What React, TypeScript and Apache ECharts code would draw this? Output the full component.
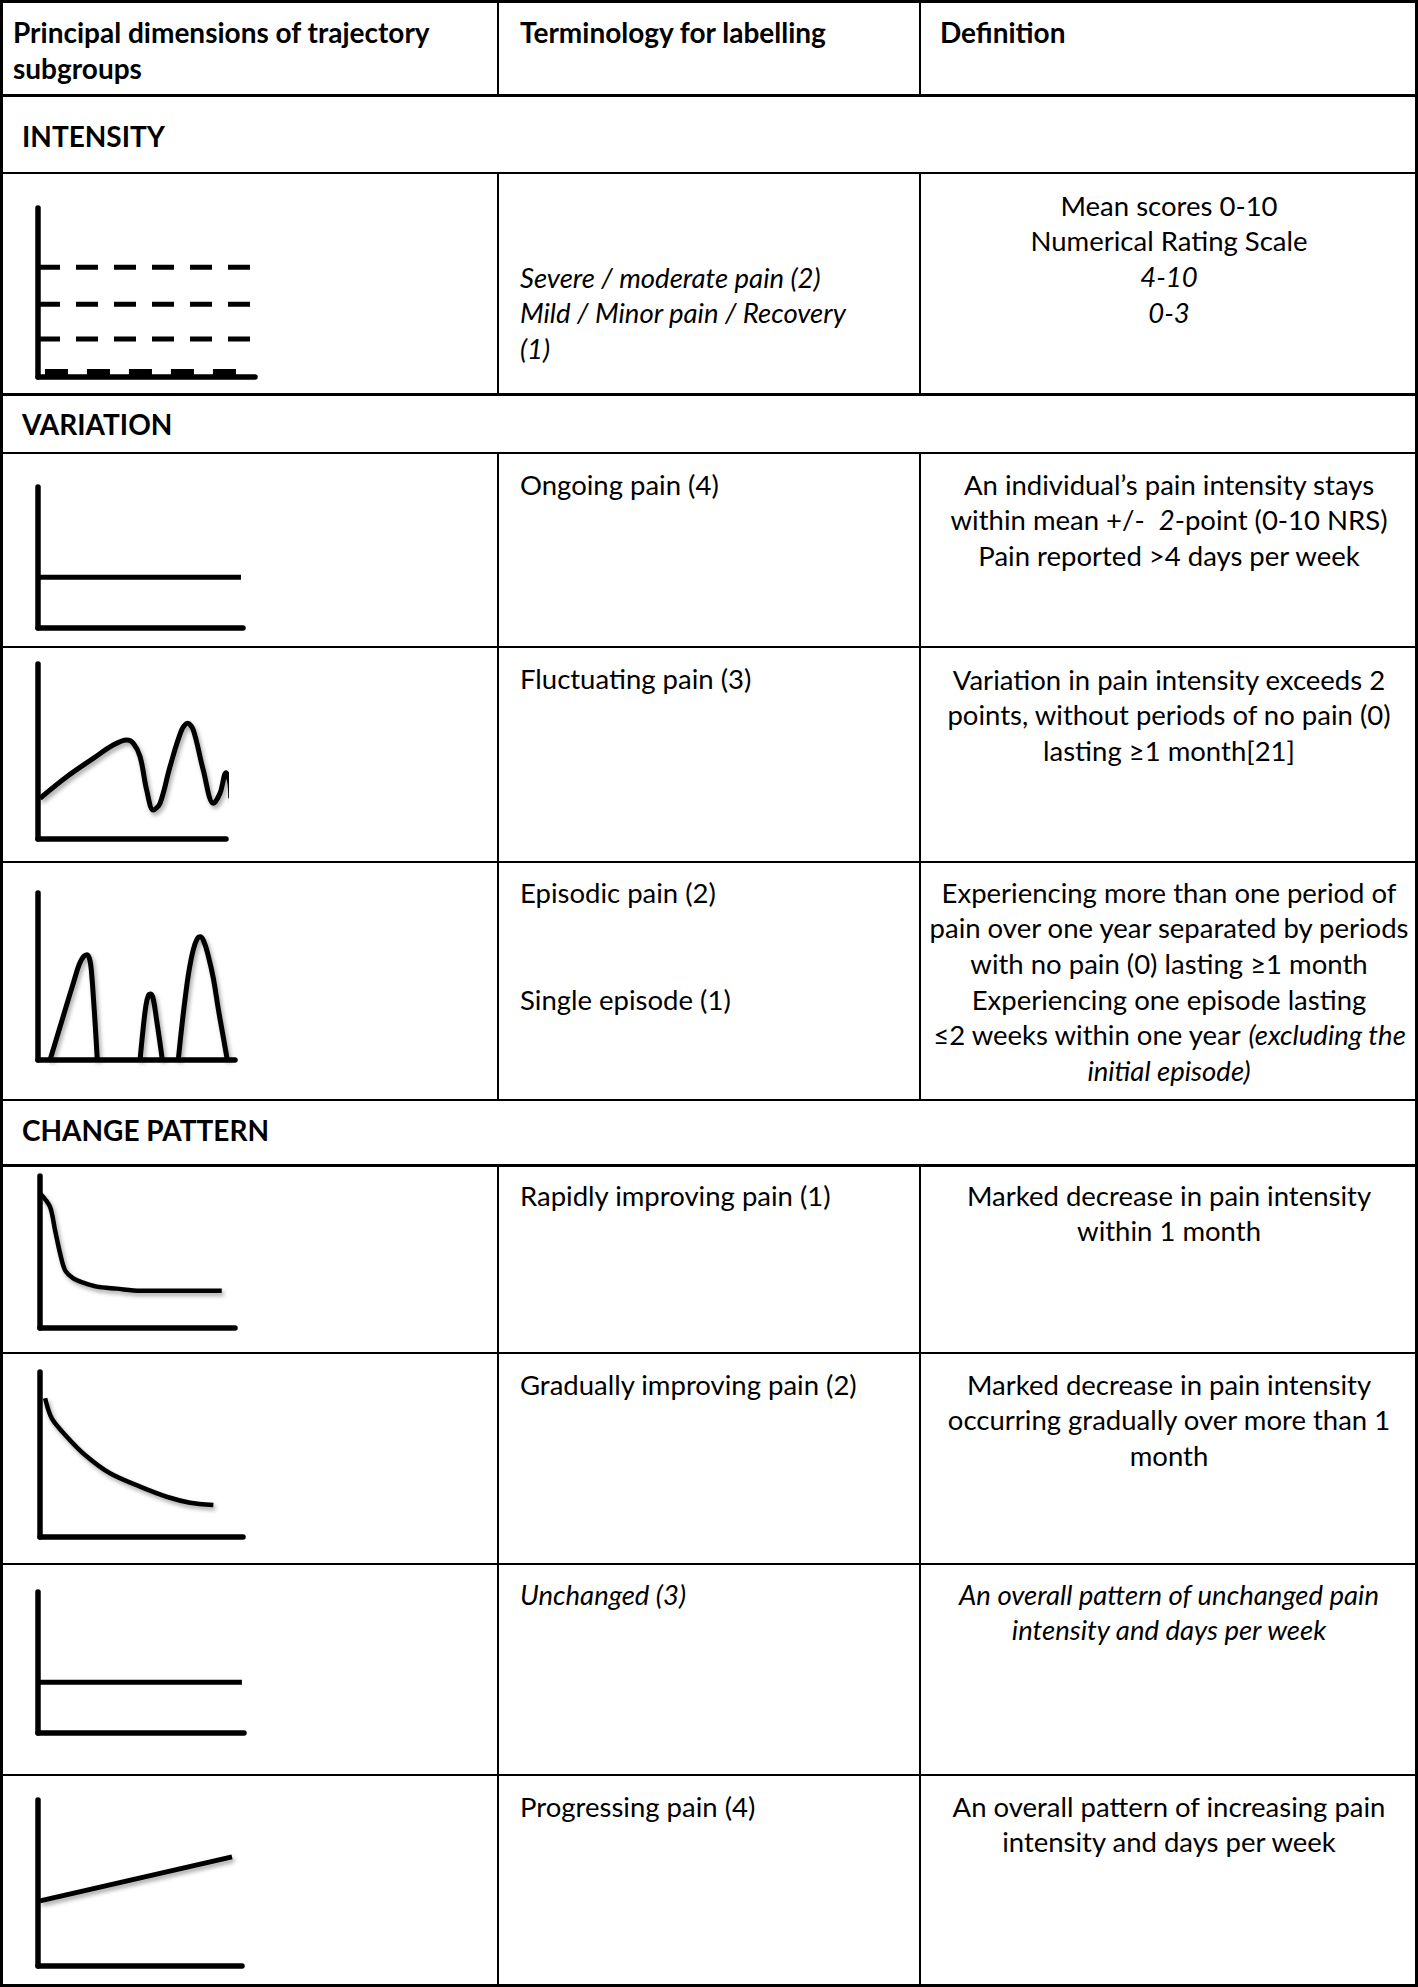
import React, { useEffect, useRef } from 'react';
import * as echarts from 'echarts';

const W = 1418;
const H = 1987;

// ---------- data ----------
const headerCol1 = ['Principal dimensions of trajectory', 'subgroups'];
const headerCol2 = ['Terminology for labelling'];
const headerCol3 = ['Definition'];
const sectionTitles = ['INTENSITY', 'VARIATION', 'CHANGE PATTERN'];

const terminologyLines = [
  ['{i|Severe / moderate pain (2)}', '{i|Mild / Minor pain / Recovery}', '{i|(1)}'],
  ['{r|Ongoing pain (4)}'],
  ['{r|Fluctuating pain (3)}'],
  ['{r|Episodic pain (2)}', '', '', '{r|Single episode (1)}'],
  ['{r|Rapidly improving pain (1)}'],
  ['{r|Gradually improving pain (2)}'],
  ['{i|Unchanged (3)}'],
  ['{r|Progressing pain (4)}'],
];

const definitionLines = [
  ['{r|Mean scores 0-10}', '{r|Numerical Rating Scale}', '{i|4-10}', '{i|0-3}'],
  ['{r|An individual’s pain intensity stays}', '{r|within mean +/-  }{i|2}{r|-point (0-10 NRS)}', '{r|Pain reported >4 days per week}'],
  ['{r|Variation in pain intensity exceeds 2}', '{r|points, without periods of no pain (0)}', '{r|lasting ≥1 month[21]}'],
  ['{r|Experiencing more than one period of}', '{r|pain over one year separated by periods}', '{r|with no pain (0) lasting ≥1 month}', '{r|Experiencing one episode lasting}', '{r|≤2 weeks within one year }{i|(excluding the}', '{i|initial episode)}'],
  ['{r|Marked decrease in pain intensity}', '{r|within 1 month}'],
  ['{r|Marked decrease in pain intensity}', '{r|occurring gradually over more than 1}', '{r|month}'],
  ['{i|An overall pattern of unchanged pain}', '{i|intensity and days per week}'],
  ['{r|An overall pattern of increasing pain}', '{r|intensity and days per week}'],
];

// sketch series (x: 0-100 along time axis, y: 0-10 pain scale)
const intensityLevels = [6.5, 4.3, 2.25];
const intensityLineEnd = 97.7;
const intensityFloor = [[3.2, 0.3], [92.2, 0.3]];
const ongoingLevel = [[0, 3.6], [99, 3.6]];
const fluctuatingCurve = [
  [1.1, 2.33], [15.3, 3.56], [29.4, 4.61], [40.0, 5.37], [47.2, 5.66], [50.7, 5.47],
  [54.3, 4.7], [57.8, 2.8], [61.3, 1.66], [64.9, 2.04], [70.2, 4.13], [76.4, 6.23],
  [79.6, 6.61], [82.6, 6.23], [87.9, 3.94], [93.3, 2.04], [96.8, 2.61], [100, 3.79],
  [102.1, 3.18], [102.5, 2.33],
];
const episodicPeak1 = [[6.1, 0], [10.2, 1.6], [14.3, 3.2], [18.3, 4.75], [21.0, 5.75], [23.2, 6.2], [24.9, 6.3], [26.3, 6.0], [27.2, 5.2], [28.2, 3.6], [29.2, 1.8], [30.1, 0]];
const episodicPeak2 = [[51.8, 0], [53.3, 1.8], [54.7, 3.2], [56.0, 3.85], [57.3, 3.95], [58.6, 3.6], [60.2, 2.4], [61.7, 1.2], [63.1, 0]];
const episodicPeak3 = [[71.2, 0], [72.9, 1.9], [74.6, 3.6], [76.6, 5.3], [78.8, 6.6], [80.8, 7.25], [82.4, 7.38], [84.2, 7.1], [86.3, 6.3], [89.0, 4.9], [91.6, 3.0], [94.0, 1.4], [96.1, 0]];
const rapidCurve = [
  [0, 8.86], [5.1, 7.98], [7.7, 6.45], [10.3, 4.91], [12.8, 3.82], [17.1, 3.27],
  [22.2, 2.98], [29.1, 2.72], [39.3, 2.59], [51.3, 2.45], [65, 2.45], [93.2, 2.45],
];
const gradualCurve = [
  [2.5, 8.41], [5.8, 7.19], [13.2, 6.08], [22.2, 4.97], [34.5, 3.86], [49.3, 3.05],
  [62.4, 2.44], [73.9, 2.08], [85.4, 1.94],
];
const unchangedLevel = [[0, 3.6], [99, 3.6]];
const progressingLine = [[1, 3.92], [95.1, 6.57]];

// ---------- layout ----------
const FONT = 'Lato, "Open Sans", sans-serif';
const FS = 27.5;
const FSB = 28;
const LH = 35.7;
const COL2_X = 520;
const COL3_C = 1169;
const termFirstY = [277, 484, 678, 892, 1195, 1384, 1594, 1806];
const defFirstY = [205, 484, 679, 892, 1195, 1384, 1594, 1806];
const sectionY = [136, 424, 1130];

const sketchGrids = [
  { left: 38, top: 208, width: 217, height: 169 },
  { left: 38, top: 487, width: 205, height: 141 },
  { left: 38, top: 664, width: 188, height: 175 },
  { left: 38, top: 893, width: 197, height: 167 },
  { left: 40, top: 1176, width: 195, height: 152 },
  { left: 40, top: 1372, width: 203, height: 165 },
  { left: 38, top: 1592, width: 206, height: 141 },
  { left: 38, top: 1800, width: 204, height: 166 },
];

const shadow = {
  shadowColor: 'rgba(0,0,0,0.35)',
  shadowBlur: 4,
  shadowOffsetX: 2,
  shadowOffsetY: 3,
};

const rich = {
  r: { fontFamily: FONT, fontSize: FS, fill: '#000', color: '#000' },
  i: { fontFamily: FONT, fontSize: FS, fontStyle: 'italic', fill: '#000', color: '#000' },
  b: { fontFamily: FONT, fontSize: FSB, fontWeight: 'bold', fill: '#000', color: '#000' },
};

function textEl(x: number, y: number, text: string, align: string) {
  return {
    type: 'text',
    x,
    y,
    silent: true,
    style: {
      text,
      rich,
      align,
      verticalAlign: 'middle',
      fontFamily: FONT,
      fontSize: FS,
      fill: '#000',
    },
  };
}

function rectEl(x: number, y: number, w: number, h: number) {
  return { type: 'rect', silent: true, shape: { x, y, width: w, height: h }, style: { fill: '#000' } };
}

function buildGraphic() {
  const els: any[] = [];
  els.push(rectEl(0, 0, W, 3));
  els.push(rectEl(0, H - 3, W, 3));
  els.push(rectEl(0, 0, 3, H));
  els.push(rectEl(W - 3, 0, 3, H));
  const hLines: [number, number][] = [
    [94, 3], [172, 2], [393, 3], [452, 2], [646, 2], [861, 2], [1099, 2],
    [1164, 3], [1352, 2], [1563, 2], [1774, 2],
  ];
  hLines.forEach(([y, t]) => els.push(rectEl(0, y, W, t)));
  const colX = [497, 919];
  const colSpans: [number, number][] = [[0, 95], [173, 394], [453, 1100], [1165, H]];
  colX.forEach((x) => colSpans.forEach(([a, b]) => els.push(rectEl(x, a, 2, b - a))));

  headerCol1.forEach((t, k) => els.push(textEl(13, 32 + k * LH, `{b|${t}}`, 'left')));
  headerCol2.forEach((t, k) => els.push(textEl(COL2_X, 32 + k * LH, `{b|${t}}`, 'left')));
  headerCol3.forEach((t, k) => els.push(textEl(940, 32 + k * LH, `{b|${t}}`, 'left')));
  sectionTitles.forEach((t, k) => els.push(textEl(22, sectionY[k], `{b|${t}}`, 'left')));
  terminologyLines.forEach((lines, r) =>
    lines.forEach((t, k) => {
      if (t) els.push(textEl(COL2_X, termFirstY[r] + k * LH, t, 'left'));
    })
  );
  definitionLines.forEach((lines, r) =>
    lines.forEach((t, k) => {
      if (t) els.push(textEl(COL3_C, defFirstY[r] + k * LH, t, 'center'));
    })
  );
  return els;
}

function lineSeries(idx: number, data: number[][], extra: any = {}) {
  const useShadow = extra.shadow !== false;
  return {
    type: 'line',
    xAxisIndex: idx,
    yAxisIndex: idx,
    data,
    symbol: 'none',
    showSymbol: false,
    silent: true,
    clip: false,
    lineStyle: {
      color: '#000', width: 5, cap: 'butt', join: 'round',
      ...(useShadow ? shadow : {}),
      ...(extra.lineStyle || {}),
    },
    smooth: extra.smooth ?? false,
  };
}

function buildOption() {
  const axisLine = {
    show: true,
    onZero: false,
    lineStyle: { color: '#000', width: 5.5 },
  };
  const grid = sketchGrids.map((g) => ({ ...g, containLabel: false }));
  const xAxis = sketchGrids.map((_, i) => ({
    type: 'value', gridIndex: i, min: 0, max: 100,
    axisLine, axisTick: { show: false }, axisLabel: { show: false }, splitLine: { show: false },
  }));
  const yAxis = sketchGrids.map((_, i) => ({
    type: 'value', gridIndex: i, min: 0, max: 10,
    axisLine, axisTick: { show: false }, axisLabel: { show: false }, splitLine: { show: false },
  }));
  const series: any[] = [];
  intensityLevels.forEach((lvl) =>
    series.push(lineSeries(0, [[0, lvl], [intensityLineEnd, lvl]], { shadow: false, lineStyle: { type: [22, 16], width: 5 } }))
  );
  series.push(lineSeries(0, intensityFloor, { shadow: false, lineStyle: { type: [23, 19], width: 6 } }));
  series.push(lineSeries(1, ongoingLevel, { shadow: false }));
  series.push(lineSeries(2, fluctuatingCurve, { smooth: 0.35 }));
  [episodicPeak1, episodicPeak2, episodicPeak3].forEach((p) => series.push(lineSeries(3, p, { smooth: 0.4 })));
  series.push(lineSeries(4, rapidCurve, { smooth: 0.3, lineStyle: { width: 4.5 } }));
  series.push(lineSeries(5, gradualCurve, { smooth: 0.3, lineStyle: { width: 4.5 } }));
  series.push(lineSeries(6, unchangedLevel, { shadow: false }));
  series.push(lineSeries(7, progressingLine));

  return {
    animation: false,
    backgroundColor: '#fff',
    grid,
    xAxis,
    yAxis,
    series,
    graphic: { elements: buildGraphic() },
  };
}

export default function App() {
  const ref = useRef<HTMLDivElement>(null);
  useEffect(() => {
    document.body.style.margin = '0';
    if (!ref.current) return;
    const chart = echarts.init(ref.current, undefined, { renderer: 'svg', width: W, height: H });
    chart.setOption(buildOption() as any);
    return () => chart.dispose();
  }, []);
  return <div ref={ref} style={{ position: 'absolute', left: 0, top: 0, width: W, height: H, background: '#fff' }} />;
}
